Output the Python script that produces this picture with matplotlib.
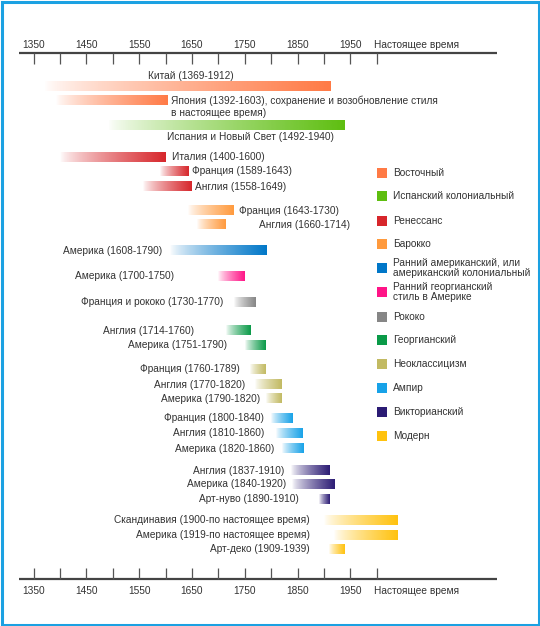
import numpy as np
import matplotlib.pyplot as plt
from matplotlib.colors import to_rgb
from matplotlib.patches import Rectangle

plt.rcParams['font.family'] = ['Liberation Sans', 'DejaVu Sans']

# стили (легенда)
styles = ["Восточный", "Испанский колониальный", "Ренессанс", "Барокко",
          "Ранний американский, или\nамериканский колониальный",
          "Ранний георгианский\nстиль в Америке", "Рококо", "Георгианский",
          "Неоклассицизм", "Ампир", "Викторианский", "Модерн"]
style_colors = ["#FF7A45", "#5EBE10", "#D7262B", "#FF9A3D", "#0077C8", "#FF1487",
                "#868686", "#0A9A48", "#C2BA62", "#17A2E8", "#2B1B74", "#FFC20E"]

# периоды
labels = ["Китай (1369-1912)",
          "Япония (1392-1603), сохранение и возобновление стиля\nв настоящее время)",
          "Испания и Новый Свет (1492-1940)",
          "Италия (1400-1600)", "Франция (1589-1643)", "Англия (1558-1649)",
          "Франция (1643-1730)", "Англия (1660-1714)",
          "Америка (1608-1790)", "Америка (1700-1750)", "Франция и рококо (1730-1770)",
          "Англия (1714-1760)", "Америка (1751-1790)",
          "Франция (1760-1789)", "Англия (1770-1820)", "Америка (1790-1820)",
          "Франция (1800-1840)", "Англия (1810-1860)", "Америка (1820-1860)",
          "Англия (1837-1910)", "Америка (1840-1920)", "Арт-нуво (1890-1910)",
          "Скандинавия (1900-по настоящее время)", "Америка (1919-по настоящее время)",
          "Арт-деко (1909-1939)"]
starts = [1369, 1392, 1492, 1400, 1589, 1558, 1643, 1660, 1608, 1700, 1730, 1714, 1751,
          1760, 1770, 1790, 1800, 1810, 1820, 1837, 1840, 1890, 1900, 1919, 1909]
PRESENT = 2040  # "по настоящее время" - конец полосы на рисунке
ends = [1912, 1603, 1940, 1600, 1643, 1649, 1730, 1714, 1790, 1750, 1770, 1760, 1790,
        1789, 1820, 1820, 1840, 1860, 1860, 1910, 1920, 1910, PRESENT, PRESENT, 1939]
kinds = [0, 0, 1, 2, 2, 2, 3, 3, 4, 5, 6, 7, 7, 8, 8, 8, 9, 9, 9, 10, 10, 10, 11, 11, 11]

tick_years = np.arange(1350, 2001, 50)
label_years = [1350, 1450, 1550, 1650, 1750, 1850, 1950]

# --- раскладка (пиксели) ---
W, H = 540, 626
X0, PXY = 33.5, 0.528          # 1350 -> 33.5 px, 0.528 px за год
def yr(px):
    return 1350 + (px - X0) / PXY

row_y = [86, 100, 125.5, 157.5, 171.5, 186.5, 210.5, 224.5, 250.5, 276, 302, 330.5, 345,
         369.5, 384.5, 398.5, 418, 433, 448.5, 470.5, 484, 499, 520, 535, 549]
# (x, y, ha, va) подписей
lab_pos = [(191, 76, "center", "center"), (171, 95.5, "left", "top"),
           (250, 137, "center", "center"),
           (172, 157.5, "left", "center"), (192, 171.5, "left", "center"),
           (195, 186.5, "left", "center"), (239, 210.5, "left", "center"),
           (259, 224.5, "left", "center"),
           (162, 250.5, "right", "center"), (174, 276, "right", "center"),
           (223, 302, "right", "center"), (194, 330.5, "right", "center"),
           (227, 345, "right", "center"), (240, 369.5, "right", "center"),
           (245, 384.5, "right", "center"), (260, 398.5, "right", "center"),
           (264, 418, "right", "center"), (264, 433, "right", "center"),
           (274, 448.5, "right", "center"), (284, 470.5, "right", "center"),
           (286, 484, "right", "center"), (299, 499, "right", "center"),
           (310, 520, "right", "center"), (310, 535, "right", "center"),
           (310, 549, "right", "center")]
leg_y = [173, 196, 221, 244, 268, 292, 317, 340, 364, 388, 412, 436]
BAR_H = 9.5
FS = 7.3
TXT = "#333333"

fig = plt.figure(figsize=(W / 100, H / 100), dpi=100)
ax = fig.add_axes([0, 0, 1, 1])
ax.axis("off")

# градиентные полосы
n = 256
t = np.linspace(0, 1, n)
for s, e, k, y in zip(starts, ends, kinds, row_y):
    rgba = np.zeros((1, n, 4))
    rgba[0, :, :3] = to_rgb(style_colors[k])
    rgba[0, :, 3] = t ** 0.75
    ax.imshow(rgba, extent=(s, e, y + BAR_H / 2, y - BAR_H / 2),
              aspect="auto", interpolation="bilinear", zorder=2)

for lab, (px, py, ha, va) in zip(labels, lab_pos):
    ax.text(yr(px), py, lab, ha=ha, va=va, fontsize=FS, color=TXT, linespacing=1.25)

# оси времени сверху и снизу
for line_y, tick_dir, lab_y in [(53, 1, 45), (579, -1, 591)]:
    ax.hlines(line_y, yr(19), yr(497), color="#444444", lw=1.6)
    ax.vlines(tick_years, line_y, line_y + tick_dir * 11, color="#555555", lw=0.9)
    for ly in label_years:
        ax.text(ly, lab_y, str(ly), ha="center", va="center", fontsize=FS, color=TXT)
    ax.text(yr(374), lab_y, "Настоящее время", ha="left", va="center",
            fontsize=FS, color=TXT)

ax.set_xlim(yr(0), yr(W))
ax.set_ylim(H, 0)

# легенда и рамка в пикселях
lay = fig.add_axes([0, 0, 1, 1], facecolor="none")
lay.axis("off")
lay.set_xlim(0, W)
lay.set_ylim(H, 0)
for name, c, y in zip(styles, style_colors, leg_y):
    lay.add_patch(Rectangle((377, y - 5), 10, 10, color=c, lw=0))
    lay.text(393, y, name, ha="left", va="center", fontsize=FS, color=TXT,
             linespacing=1.1)
lay.add_patch(Rectangle((1.5, 1.5), W - 3, H - 3, fill=False, ec="#1BA1E2", lw=2.2))

fig.savefig("out.png", dpi=100)
